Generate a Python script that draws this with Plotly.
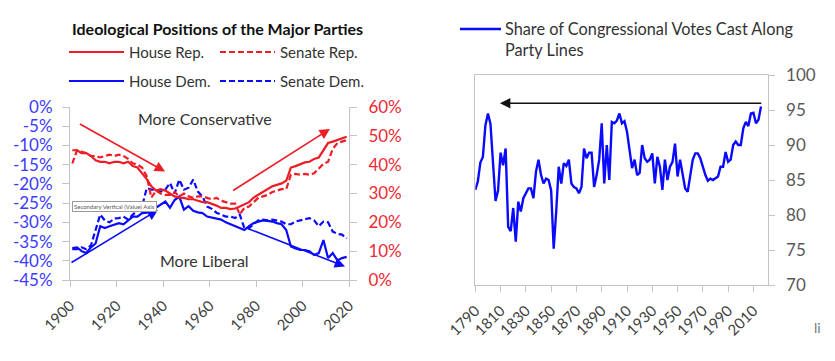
import plotly.graph_objects as go

# ---------------- data ----------------
years_left = list(range(1901, 2020, 2))
house_rep = [45.0, 45.0, 44.0, 44.0, 43.0, 41.5, 41.0, 41.0, 40.5, 41.0,
             41.0, 40.5, 41.0, 39.5, 39.0, 37.0, 35.0, 32.5, 31.0, 31.5,
             31.0, 30.0, 29.0, 28.6, 28.5, 28.0, 28.0, 27.5, 27.0, 27.0,
             26.5, 25.8, 25.0, 25.0, 24.6, 24.8, 25.5, 26.3, 27.0, 28.6,
             29.5, 30.5, 31.5, 32.5, 33.0, 33.5, 34.4, 39.0, 39.5, 40.2,
             40.8, 41.0, 42.0, 42.5, 45.0, 47.5, 48.0, 48.5, 49.0, 49.7]
senate_rep = [40.4, 45.0, 44.5, 44.0, 43.0, 43.0, 42.5, 43.0, 43.5, 43.0,
              43.5, 43.0, 42.0, 40.5, 40.0, 39.0, 36.0, 28.6, 31.0, 30.0,
              29.5, 29.5, 30.5, 29.0, 30.0, 29.0, 28.5, 29.0, 29.0, 28.5,
              28.0, 28.5, 27.5, 27.0, 26.5, 26.5, 22.8, 25.0, 25.5, 27.0,
              28.5, 29.0, 29.5, 30.5, 31.0, 31.5, 31.5, 36.5, 36.8, 36.5,
              36.8, 36.5, 37.0, 38.5, 40.3, 41.0, 45.5, 47.5, 48.0, 48.5]
house_dem = [-36.7, -36.5, -37.5, -38.0, -36.5, -35.5, -31.0, -31.5, -31.0, -30.5,
             -30.2, -30.5, -29.5, -28.5, -28.5, -27.6, -27.5, -26.5, -26.2, -25.5,
             -24.6, -26.2, -24.2, -23.3, -26.7, -25.8, -27.0, -27.4, -27.6, -28.5,
             -28.8, -29.0, -29.3, -30.0, -30.5, -31.0, -31.5, -32.0, -31.0, -30.2,
             -29.8, -29.5, -29.6, -29.8, -30.2, -30.5, -32.0, -36.3, -36.8, -37.2,
             -37.2, -37.5, -38.5, -38.0, -34.6, -39.3, -38.0, -39.9, -39.3, -39.0]
senate_dem = [-37.0, -37.0, -36.5, -37.0, -36.0, -32.0, -28.0, -29.5, -30.0, -29.0,
              -28.9, -28.5, -29.3, -28.0, -27.0, -25.9, -21.1, -21.5, -21.5, -22.0,
              -21.5, -19.8, -22.5, -18.9, -21.5, -21.0, -18.9, -22.0, -23.3, -25.9,
              -26.5, -27.5, -28.0, -28.5, -28.5, -28.9, -28.0, -31.5, -31.5, -30.5,
              -29.5, -29.3, -29.5, -29.3, -29.5, -29.8, -30.5, -30.5, -29.8, -29.5,
              -29.2, -28.9, -29.5, -31.0, -29.8, -30.0, -32.4, -33.0, -33.2, -34.2]

left_x_ticks = [1900, 1920, 1940, 1960, 1980, 2000, 2020]
dem_ticks = [0, -5, -10, -15, -20, -25, -30, -35, -40, -45]
dem_tick_text = ["0%", "-5%", "-10%", "-15%", "-20%", "-25%", "-30%", "-35%", "-40%", "-45%"]
rep_ticks = [0, 10, 20, 30, 40, 50, 60]
rep_tick_text = ["0%", "10%", "20%", "30%", "40%", "50%", "60%"]

years_right = list(range(1790, 2017, 2))
party_line_share = [83.6, 84.8, 87.5, 88.3, 92.8, 94.5, 93.0, 88.0, 82.0, 83.5,
                    88.9, 87.1, 89.5, 78.3, 77.7, 81.0, 76.2, 81.9, 80.5, 82.4,
                    83.0, 83.8, 83.8, 82.4, 86.2, 87.9, 85.7, 84.5, 85.2, 85.0,
                    83.5, 75.2, 80.5, 86.9, 84.5, 87.4, 87.0, 87.9, 84.5, 84.0,
                    83.8, 83.1, 84.0, 89.5, 88.1, 88.9, 88.9, 84.0, 85.7, 87.9,
                    93.1, 84.5, 90.0, 85.0, 93.3, 93.1, 93.5, 94.5, 93.1, 93.4,
                    91.9, 89.5, 86.7, 87.9, 85.7, 86.0, 90.0, 88.1, 87.6, 87.9,
                    88.8, 84.5, 88.3, 86.9, 83.6, 87.9, 85.0, 86.9, 87.6, 90.2,
                    85.5, 87.9, 85.5, 83.8, 83.3, 85.5, 87.9, 88.8, 88.8, 88.1,
                    86.9, 85.7, 84.9, 85.2, 85.0, 85.2, 85.5, 86.9, 86.9, 89.0,
                    87.6, 87.9, 90.0, 90.5, 90.0, 90.0, 92.4, 93.3, 92.7, 94.5,
                    94.6, 93.1, 93.6, 95.5]
right_x_ticks = list(range(1790, 2011, 20))
right_y_ticks = [70, 75, 80, 85, 90, 95, 100]

# ---------------- styling ----------------
RED = "#ee1c25"
BLUE = "#0a0aff"
RED_TXT = "#ee2a35"
BLUE_TXT = "#3b3bff"
AX = "#c4c4c4"
FONT = "Lato"
W, H = 835, 361


def px(x):
    return x / W


def py(y):
    return (H - y) / H


fig = go.Figure()
fig.add_trace(go.Scatter(x=years_left, y=house_rep, mode="lines", yaxis="y2", xaxis="x",
                         line=dict(color=RED, width=2.2), name="House Rep."))
fig.add_trace(go.Scatter(x=years_left, y=senate_rep, mode="lines", yaxis="y2", xaxis="x",
                         line=dict(color=RED, width=2.2, dash="6px,3px"), name="Senate Rep."))
fig.add_trace(go.Scatter(x=years_left, y=house_dem, mode="lines", yaxis="y", xaxis="x",
                         line=dict(color=BLUE, width=2.2), name="House Dem."))
fig.add_trace(go.Scatter(x=years_left, y=senate_dem, mode="lines", yaxis="y", xaxis="x",
                         line=dict(color=BLUE, width=2.2, dash="6px,3px"), name="Senate Dem."))
fig.add_trace(go.Scatter(x=years_right, y=party_line_share, mode="lines", xaxis="x3", yaxis="y3",
                         line=dict(color=BLUE, width=2.4),
                         name="Share of Congressional Votes Cast Along Party Lines"))

tick_font_x = dict(family=FONT, size=15, color="#404040")

fig.update_layout(
    width=W, height=H,
    margin=dict(l=0, r=0, t=0, b=0, autoexpand=False),
    paper_bgcolor="white", plot_bgcolor="white",
    showlegend=False,
    font=dict(family=FONT),
    xaxis=dict(domain=[px(70), px(349)], range=[1900, 2020], anchor="y", automargin=False,
               tickvals=left_x_ticks, tickangle=-45, ticks="outside", ticklen=6,
               tickcolor=AX, showline=True, linecolor=AX, linewidth=1,
               showgrid=False, zeroline=False, tickfont=tick_font_x, ticklabelstandoff=4),
    yaxis=dict(domain=[py(280), py(107)], range=[-45, 0], anchor="x", automargin=False,
               tickvals=dem_ticks, ticktext=dem_tick_text, ticks="outside", ticklen=7,
               tickcolor=AX, showline=True, linecolor=AX, showgrid=False, zeroline=False,
               tickfont=dict(family=FONT, size=17, color=BLUE_TXT), ticklabelstandoff=6),
    yaxis2=dict(domain=[py(280), py(107)], range=[0, 60], overlaying="y", side="right",
                anchor="x", automargin=False, tickvals=rep_ticks, ticktext=rep_tick_text,
                ticks="outside", ticklen=7, tickcolor=AX, showline=True, linecolor=AX,
                showgrid=False, zeroline=False,
                tickfont=dict(family=FONT, size=17, color=RED_TXT), ticklabelstandoff=8),
    xaxis3=dict(domain=[px(475.3), px(767.7)], range=[1790, 2021.3], anchor="y3",
                automargin=False, tickvals=right_x_ticks, tickangle=-45, ticks="outside",
                ticklen=6, tickcolor=AX, showline=True, linecolor=AX, mirror=True,
                showgrid=False, zeroline=False, tickfont=tick_font_x, ticklabelstandoff=4),
    yaxis3=dict(domain=[py(285), py(75)], range=[70, 100], anchor="x3", side="right",
                automargin=False, tickvals=right_y_ticks, ticks="outside", ticklen=6,
                tickcolor=AX, showline=True, linecolor=AX, mirror=True, showgrid=False,
                zeroline=False, tickfont=dict(family=FONT, size=17, color="#595959"),
                ticklabelstandoff=8),
)

annotations = []
# direction arrows (left chart)
annotations.append(dict(x=1940.9, y=37.6, ax=1903.6, ay=54.4, xref="x", yref="y2",
                        axref="x", ayref="y2", text="", showarrow=True, arrowhead=2,
                        arrowsize=1.3, arrowwidth=1.6, arrowcolor=RED))
annotations.append(dict(x=2011.8, y=52.4, ax=1969.5, ay=30.7, xref="x", yref="y2",
                        axref="x", ayref="y2", text="", showarrow=True, arrowhead=2,
                        arrowsize=1.3, arrowwidth=1.6, arrowcolor=RED))
annotations.append(dict(x=1937.8, y=-26.8, ax=1900, ay=-40.7, xref="x", yref="y",
                        axref="x", ayref="y", text="", showarrow=True, arrowhead=2,
                        arrowsize=1.3, arrowwidth=1.6, arrowcolor=BLUE))
annotations.append(dict(x=2018.3, y=-41.5, ax=1976, ay=-31.5, xref="x", yref="y",
                        axref="x", ayref="y", text="", showarrow=True, arrowhead=2,
                        arrowsize=1.3, arrowwidth=1.6, arrowcolor=BLUE))
# black arrow (right chart)
annotations.append(dict(x=1809.5, y=95.96, ax=2017.4, ay=95.96, xref="x3", yref="y3",
                        axref="x3", ayref="y3", text="", showarrow=True, arrowhead=2,
                        arrowsize=1.3, arrowwidth=1.6, arrowcolor="#111111"))


def label(x, y, text, font, xanchor="center"):
    annotations.append(dict(x=px(x), y=py(y), xref="paper", yref="paper", showarrow=False,
                            xanchor=xanchor, yanchor="middle", align="left",
                            text=text, font=font))


label(205, 118, "More Conservative", dict(family=FONT, size=16, color="#333333"))
label(204, 260, "More Liberal", dict(family=FONT, size=16, color="#333333"))
label(217, 28, "<b>Ideological Positions of the Major Parties</b>",
      dict(family=FONT, size=16, color="#111111"))
annotations.append(dict(x=px(72), y=py(206.5), xref="paper", yref="paper", showarrow=False,
                        xanchor="left", yanchor="middle", text="Secondary Vertical (Value) Axis",
                        font=dict(family=FONT, size=6, color="#555555"),
                        bgcolor="white", bordercolor="#9a9a9a", borderwidth=1, borderpad=1))

legend_font = dict(family=FONT, size=15, color="#333333")
shapes = []
left_legend = [("House Rep.", RED, "solid", 69, 52), ("Senate Rep.", RED, "6px,3px", 220, 52),
               ("House Dem.", BLUE, "solid", 69, 81), ("Senate Dem.", BLUE, "6px,3px", 220, 81)]
for name, col, dash, x0, yy in left_legend:
    shapes.append(dict(type="line", xref="paper", yref="paper", x0=px(x0), x1=px(x0 + 55),
                       y0=py(yy), y1=py(yy), line=dict(color=col, width=2.2, dash=dash)))
    label(x0 + 58, yy, name, legend_font, xanchor="left")

shapes.append(dict(type="line", xref="paper", yref="paper", x0=px(460), x1=px(501),
                   y0=py(29), y1=py(29), line=dict(color=BLUE, width=2.4)))
label(503, 39, "Share of Congressional Votes Cast Along<br>Party Lines",
      dict(family=FONT, size=16.3, color="#333333"), xanchor="left")
label(817, 327, "li", dict(family=FONT, size=14, color="#777777"))

fig.update_layout(annotations=annotations, shapes=shapes)
fig.write_html("out.html", config={"displayModeBar": False},
               post_script="document.body.style.margin='0';")
